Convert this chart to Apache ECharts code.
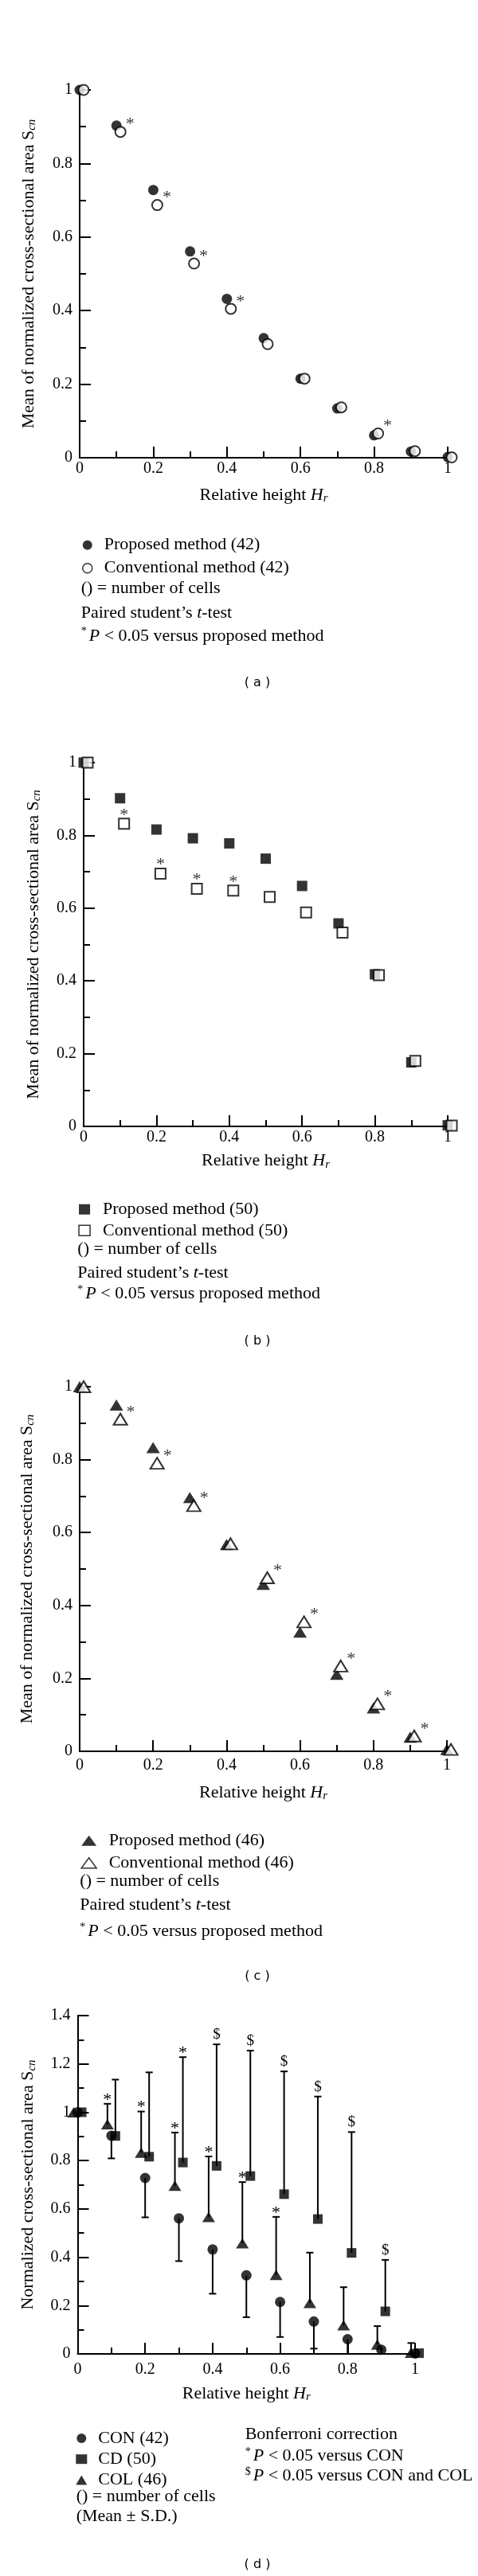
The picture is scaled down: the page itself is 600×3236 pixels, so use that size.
<!DOCTYPE html>
<html>
<head>
<meta charset="utf-8">
<script src="https://cdn.jsdelivr.net/npm/echarts@6/dist/echarts.min.js"></script>
<style>
html,body{margin:0;padding:0;background:#fff;}
#chart{width:600px;height:3236px;}
</style>
</head>
<body>
<div id="chart"></div>
<script>
// ---------- data ----------
const hr = [0, 0.1, 0.2, 0.3, 0.4, 0.5, 0.6, 0.7, 0.8, 0.9, 1.0];
const xTicks = ['0', '0.2', '0.4', '0.6', '0.8', '1'];

// (a) circles, 42 cells
const propA = [1.0, 0.903, 0.728, 0.561, 0.432, 0.325, 0.215, 0.134, 0.061, 0.017, 0.002];
const convA = [1.0, 0.886, 0.687, 0.528, 0.405, 0.309, 0.215, 0.137, 0.066, 0.018, 0.001];
const sigA  = [0, 1, 1, 1, 1, 0, 0, 0, 1, 0, 0];

// (b) squares, 50 cells
const propB = [1.0, 0.902, 0.816, 0.792, 0.778, 0.736, 0.661, 0.558, 0.418, 0.176, 0.003];
const convB = [1.0, 0.832, 0.695, 0.653, 0.648, 0.631, 0.588, 0.533, 0.416, 0.180, 0.002];
const sigB  = [0, 1, 1, 1, 1, 0, 0, 0, 0, 0, 0];

// (c) triangles, 46 cells
const propC = [1.0, 0.950, 0.833, 0.696, 0.567, 0.458, 0.327, 0.211, 0.119, 0.039, 0.005];
const convC = [1.0, 0.911, 0.790, 0.674, 0.569, 0.476, 0.355, 0.234, 0.130, 0.042, 0.005];
const sigC  = [0, 1, 1, 1, 0, 1, 1, 1, 1, 1, 0];

// (d) mean ± S.D.
const conMean = propA, cdMean = propB, colMean = propC;
const conSD = [0, 0.094, 0.163, 0.177, 0.183, 0.173, 0.145, 0.112, 0.061, 0.017, 0];
const cdSD  = [0, 0.233, 0.349, 0.436, 0.503, 0.519, 0.508, 0.507, 0.500, 0.213, 0];
const colSD = [0, 0.085, 0.170, 0.220, 0.250, 0.253, 0.240, 0.208, 0.157, 0.076, 0.040];
const conMark = ['', '', '', '', '', '', '', '', '', '', ''];
const cdMark  = ['', '', '', '*', '$', '$', '$', '$', '$', '$', ''];
const colMark = ['', '*', '*', '*', '*', '*', '*', '', '', '', ''];

// ---------- styles ----------
const SERIF = '"Liberation Serif", "Times New Roman", serif';
const SANS = '"DejaVu Sans", Verdana, sans-serif';
const BLACK = '#000';
const FS = 22;

const richBase = {
  i:   {fontFamily: SERIF, fontSize: FS, fontStyle: 'italic', color: BLACK},
  sub: {fontFamily: SERIF, fontSize: 15, fontStyle: 'italic', color: BLACK, verticalAlign: 'bottom', lineHeight: 15},
  sup: {fontFamily: SERIF, fontSize: 14, color: BLACK, verticalAlign: 'top', lineHeight: 14, padding: [0, 3, 0, 0]}
};

function xAxisCfg(gi, labelMargin, nameGap) {
  return {
    type: 'value', gridIndex: gi, min: 0, max: 1, interval: 0.2,
    axisLine: {show: true, onZero: false, lineStyle: {color: BLACK, width: 2}},
    axisTick: {show: true, inside: true, length: 14, lineStyle: {color: BLACK, width: 2}},
    minorTick: {show: true, splitNumber: 2, length: 8, lineStyle: {color: BLACK, width: 2}},
    splitLine: {show: false}, minorSplitLine: {show: false},
    axisLabel: {color: BLACK, fontFamily: SERIF, fontSize: 20, margin: labelMargin,
      formatter: v => { const i = Math.round(v / 0.2); return xTicks[i] !== undefined ? xTicks[i] : String(v); }},
    name: 'Relative height {i|H}{sub|r}',
    nameLocation: 'middle', nameGap: nameGap,
    nameTextStyle: {color: BLACK, fontFamily: SERIF, fontSize: FS, lineHeight: 24, rich: richBase}
  };
}
function yAxisCfg(gi, max, nameText, nameGap) {
  return {
    type: 'value', gridIndex: gi, min: 0, max: max, interval: 0.2,
    axisLine: {show: true, onZero: false, lineStyle: {color: BLACK, width: 2}},
    axisTick: {show: true, inside: true, length: 14, lineStyle: {color: BLACK, width: 2}},
    minorTick: {show: true, splitNumber: 2, length: 8, lineStyle: {color: BLACK, width: 2}},
    splitLine: {show: false}, minorSplitLine: {show: false},
    axisLabel: {color: BLACK, fontFamily: SERIF, fontSize: 20, margin: 9,
      formatter: v => (Math.abs(v - Math.round(v)) < 1e-9 ? String(Math.round(v)) : v.toFixed(1))},
    name: nameText,
    nameLocation: 'middle', nameGap: nameGap,
    nameTextStyle: {color: BLACK, fontFamily: SERIF, fontSize: FS, lineHeight: 24, rich: richBase}
  };
}

const yNameMean = 'Mean of normalized cross-sectional area S{sub|cn}';
const yNameD = 'Normalized cross-sectional area S{sub|cn}';

function pairData(vals) { return hr.map((x, i) => [x, vals[i]]); }
function sigData(vals, sig) {
  return hr.map((x, i) => ({value: [x, vals[i]], label: {show: !!sig[i]}}));
}

function scatterPair(gi, nameP, nameC, prop, conv, sig, symbol, size, labelOffset) {
  return [
    {
      name: nameP, type: 'scatter', xAxisIndex: gi, yAxisIndex: gi,
      symbol: symbol, symbolSize: size, clip: false, z: 3,
      itemStyle: {color: BLACK}, emphasis: {disabled: true},
      data: pairData(prop)
    },
    {
      name: nameC, type: 'scatter', xAxisIndex: gi, yAxisIndex: gi,
      symbol: symbol, symbolSize: size, symbolOffset: [5, 0], clip: false, z: 4,
      itemStyle: {color: '#fff', borderColor: BLACK, borderWidth: 2}, emphasis: {disabled: true},
      label: {show: false, formatter: '*', position: 'inside', offset: labelOffset,
        color: BLACK, fontFamily: SERIF, fontSize: 22},
      data: sigData(conv, sig)
    }
  ];
}

function errorSeries(gi, means, sds, marks, dir, dx) {
  return {
    type: 'custom', xAxisIndex: gi, yAxisIndex: gi, z: 2, silent: true,
    data: hr.map((x, i) => [x, means[i], sds[i]]),
    renderItem: function (params, api) {
      const x = api.value(0), m = api.value(1), sd = api.value(2);
      if (!sd) return null;
      const p0 = api.coord([x, m]);
      const p1 = api.coord([x, Math.max(0, m + dir * sd)]);
      const px = p0[0] + dx;
      const children = [
        {type: 'line', shape: {x1: px, y1: p0[1], x2: px, y2: p1[1]}, style: {stroke: BLACK, lineWidth: 2}},
        {type: 'line', shape: {x1: px - 4.5, y1: p1[1], x2: px + 4.5, y2: p1[1]}, style: {stroke: BLACK, lineWidth: 2}}
      ];
      const mk = marks[params.dataIndex];
      if (mk) {
        children.push({
          type: 'text', x: px, y: mk === '$' ? p1[1] - 12 : p1[1] - 5,
          style: {text: mk, fill: BLACK, fontFamily: SERIF, fontSize: mk === '$' ? 19 : 22,
            align: 'center', verticalAlign: 'middle'}
        });
      }
      return {type: 'group', children: children};
    }
  };
}

function note(x, baseline, text) {
  return {
    type: 'text', x: x, y: baseline - 7.7, silent: true,
    style: {text: text, fill: BLACK, fontFamily: SERIF, fontSize: FS, lineHeight: 24,
      align: 'left', verticalAlign: 'middle', rich: richBase}
  };
}
function caption(y, text) {
  return {type: 'text', x: 323, y: y, silent: true,
    style: {text: text, fill: BLACK, fontFamily: SANS, fontSize: 16, align: 'center', verticalAlign: 'middle'}};
}

function legendCfg(items, left, top, iw, ih, gap, pad) {
  return {
    orient: 'vertical', left: left, top: top, padding: 0, itemGap: gap,
    itemWidth: iw, itemHeight: ih, selectedMode: false,
    textStyle: {color: BLACK, fontFamily: SERIF, fontSize: FS, lineHeight: 22, padding: [0, 0, 0, pad]},
    data: items
  };
}
const openStyle = {color: '#fff', borderColor: BLACK, borderWidth: 1.5};
const fillStyle = {color: BLACK, borderWidth: 0};

const option = {
  animation: false,
  backgroundColor: '#fff',
  grid: [
    {left: 100, top: 113, width: 462, height: 462, outerBoundsMode: 'none'},
    {left: 105, top: 958, width: 457, height: 457, outerBoundsMode: 'none'},
    {left: 100, top: 1742, width: 461, height: 458, outerBoundsMode: 'none'},
    {left: 97.5, top: 2532, width: 423.5, height: 425, outerBoundsMode: 'none'}
  ],
  xAxis: [xAxisCfg(0, 4, 35), xAxisCfg(1, 4, 31.5), xAxisCfg(2, 8, 40), xAxisCfg(3, 10, 38)],
  yAxis: [yAxisCfg(0, 1, yNameMean, 52), yAxisCfg(1, 1, yNameMean, 51), yAxisCfg(2, 1, yNameMean, 54), yAxisCfg(3, 1.4, yNameD, 50)],
  legend: [
    legendCfg([
      {name: 'Proposed method (42)', icon: 'circle', itemStyle: fillStyle},
      {name: 'Conventional method (42)', icon: 'circle', itemStyle: openStyle}
    ], 103, 673.7, 12, 12, 7, 10),
    legendCfg([
      {name: 'Proposed method (50)', icon: 'rect', itemStyle: fillStyle},
      {name: 'Conventional method (50)', icon: 'rect', itemStyle: openStyle}
    ], 98.3, 1508.2, 14, 13, 4.6, 11),
    legendCfg([
      {name: 'Proposed method (46)', icon: 'triangle', itemStyle: fillStyle},
      {name: 'Conventional method (46)', icon: 'triangle', itemStyle: openStyle}
    ], 101.4, 2301.2, 19, 13, 6, 10.5),
    legendCfg([
      {name: 'CON (42)', icon: 'circle', itemStyle: fillStyle},
      {name: 'CD (50)', icon: 'rect', itemStyle: fillStyle},
      {name: 'COL (46)', icon: 'triangle', itemStyle: fillStyle}
    ], 95.3, 3052, 14, 12, 4.2, 9)
  ],
  graphic: [
    note(101.7, 746.7, '() = number of cells'),
    note(101.7, 778.3, 'Paired student\u2019s {i|t}-test'),
    note(101.7, 806.5, '{sup|*}{i|P} < 0.05 versus proposed method'),
    caption(858, '( a )'),

    note(97.3, 1577.3, '() = number of cells'),
    note(97.3, 1606.7, 'Paired student\u2019s {i|t}-test'),
    note(97.3, 1633.3, '{sup|*}{i|P} < 0.05 versus proposed method'),
    caption(1685, '( b )'),

    note(100.3, 2370.5, '() = number of cells'),
    note(100.3, 2400.7, 'Paired student\u2019s {i|t}-test'),
    note(100.3, 2434.3, '{sup|*}{i|P} < 0.05 versus proposed method'),
    caption(2483, '( c )'),

    note(95.7, 3144, '() = number of cells'),
    note(95.7, 3169.3, '(Mean \u00b1 S.D.)'),
    note(307.7, 3066, 'Bonferroni correction'),
    note(307.7, 3093.3, '{sup|*}{i|P} < 0.05 versus CON'),
    note(307.7, 3118.3, '{sup|$}{i|P} < 0.05 versus CON and COL'),
    caption(3221.7, '( d )')
  ],
  series: [].concat(
    scatterPair(0, 'Proposed method (42)', 'Conventional method (42)', propA, convA, sigA, 'circle', 13, [12, -9]),
    scatterPair(1, 'Proposed method (50)', 'Conventional method (50)', propB, convB, sigB, 'rect', 13, [0, -11]),
    scatterPair(2, 'Proposed method (46)', 'Conventional method (46)', propC, convC, sigC, 'triangle', [17, 14], [13, -9]),
    [
      errorSeries(3, conMean, conSD, conMark, -1, 0),
      errorSeries(3, cdMean, cdSD, cdMark, 1, 5),
      errorSeries(3, colMean, colSD, colMark, 1, -5),
      {name: 'CON (42)', type: 'scatter', xAxisIndex: 3, yAxisIndex: 3, symbol: 'circle', symbolSize: 13,
        clip: false, z: 3, itemStyle: {color: BLACK}, emphasis: {disabled: true}, data: pairData(conMean)},
      {name: 'CD (50)', type: 'scatter', xAxisIndex: 3, yAxisIndex: 3, symbol: 'rect', symbolSize: 12,
        symbolOffset: [5, 0], clip: false, z: 3, itemStyle: {color: BLACK}, emphasis: {disabled: true}, data: pairData(cdMean)},
      {name: 'COL (46)', type: 'scatter', xAxisIndex: 3, yAxisIndex: 3, symbol: 'triangle', symbolSize: [16, 13],
        symbolOffset: [-5, 0], clip: false, z: 3, itemStyle: {color: BLACK}, emphasis: {disabled: true}, data: pairData(colMean)}
    ]
  )
};

const chart = echarts.init(document.getElementById('chart'), null, {renderer: 'canvas'});
chart.setOption(option);
</script>
</body>
</html>
